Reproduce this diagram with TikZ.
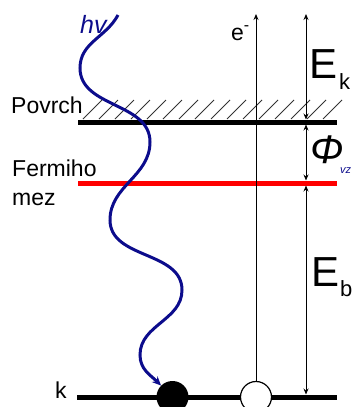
\documentclass[tikz,border=0pt]{standalone}
\usepackage{fontspec}
\setmainfont{Liberation Sans}
\usetikzlibrary{arrows.meta}
\definecolor{photonblue}{RGB}{12,12,140}
\begin{document}
\begin{tikzpicture}[x=1pt,y=1pt,
  bar/.style={line width=5pt},
  hatchline/.style={line width=0.8pt,black!80},
  dimline/.style={line width=0.9pt,{Stealth[length=6pt,width=5pt]}-{Stealth[length=6pt,width=5pt]}},
  eline/.style={line width=0.9pt,-{Stealth[length=6pt,width=5pt]}},
  photon/.style={line width=3pt,photonblue,-{Stealth[length=9pt,width=8pt]}},
  lbl/.style={inner sep=0pt,anchor=base west,font=\fontsize{23}{23}\selectfont},
  big/.style={inner sep=0pt,anchor=base west,font=\fontsize{42}{42}\selectfont},
  sub/.style={inner sep=0pt,anchor=base west,font=\fontsize{22}{22}\selectfont}]
\useasboundingbox (0,0) rectangle (355,-407);
% hatching
\foreach \hx in {83,99,...,323} {\draw[hatchline] (\hx,-119) -- (\hx+19,-100);}
% levels
\coordinate (sL) at (78,-122); \coordinate (sR) at (337,-122);
\coordinate (fL) at (78,-183); \coordinate (fR) at (337,-183);
\coordinate (kL) at (77,-397); \coordinate (kR) at (337,-397);
\draw[bar] (sL) -- (sR);
\draw[bar,red] (fL) -- (fR);
\draw[bar] (kL) -- (kR);
% circles
\node[circle,fill=black,minimum size=32pt,inner sep=0pt] (hole) at (172.5,-397) {};
\node[circle,fill=white,draw=black,line width=1.2pt,minimum size=31pt,inner sep=0pt] (el) at (256,-397) {};
% electron line
\coordinate (etop) at (256,-14);
\draw[eline] (el.north) -- (etop);
% dimension lines
\coordinate (d1) at (306,-14);
\coordinate (d2) at (306,-119.5);
\coordinate (d3) at (306,-124.5);
\coordinate (d4) at (306,-180.5);
\coordinate (d5) at (306,-185.5);
\coordinate (d6) at (306,-394.5);
\draw[dimline] (d2) -- (d1);
\draw[dimline] (d3) -- (d4);
\draw[dimline] (d5) -- (d6);
% photon
\coordinate (ph) at (118,-15);
\draw[photon] (ph) to[out=-118,in=90] (80,-68) to[out=-90,in=90] (150,-142)
  to[out=-90,in=90] (110,-220) to[out=-90,in=90] (182,-290)
  to[out=-90,in=90] (140,-355) to[out=-90,in=135] (hole);
% labels
\node[lbl] (povrch) at (11,-113) {Povrch};
\node[lbl] (fermi) at (12,-176) {Fermiho};
\node[lbl] (mez) at (12,-205) {mez};
\node[lbl] (k) at (55,-398) {k};
\node[inner sep=0pt,anchor=base west,font=\fontsize{25}{25}\selectfont\itshape,text=photonblue] (hv) at (80,-33) {hv};
\node[lbl] (e) at (231,-40) {e\raisebox{10pt}{\fontsize{16}{16}\selectfont -}};
\node[big] (Ek) at (309,-78) {E};
\node[sub] (Eks) at (339,-89) {k};
\node[inner sep=0pt,anchor=base west,font=\fontsize{40}{40}\selectfont\itshape] (phi) at (310,-163) {Φ};
\node[inner sep=0pt,anchor=base west,font=\fontsize{11}{11}\selectfont\itshape,text=photonblue] (vz) at (340,-173) {vz};
\node[big] (Eb) at (311,-286) {E};
\node[sub] (Ebs) at (340,-296) {b};
\end{tikzpicture}
\end{document}
